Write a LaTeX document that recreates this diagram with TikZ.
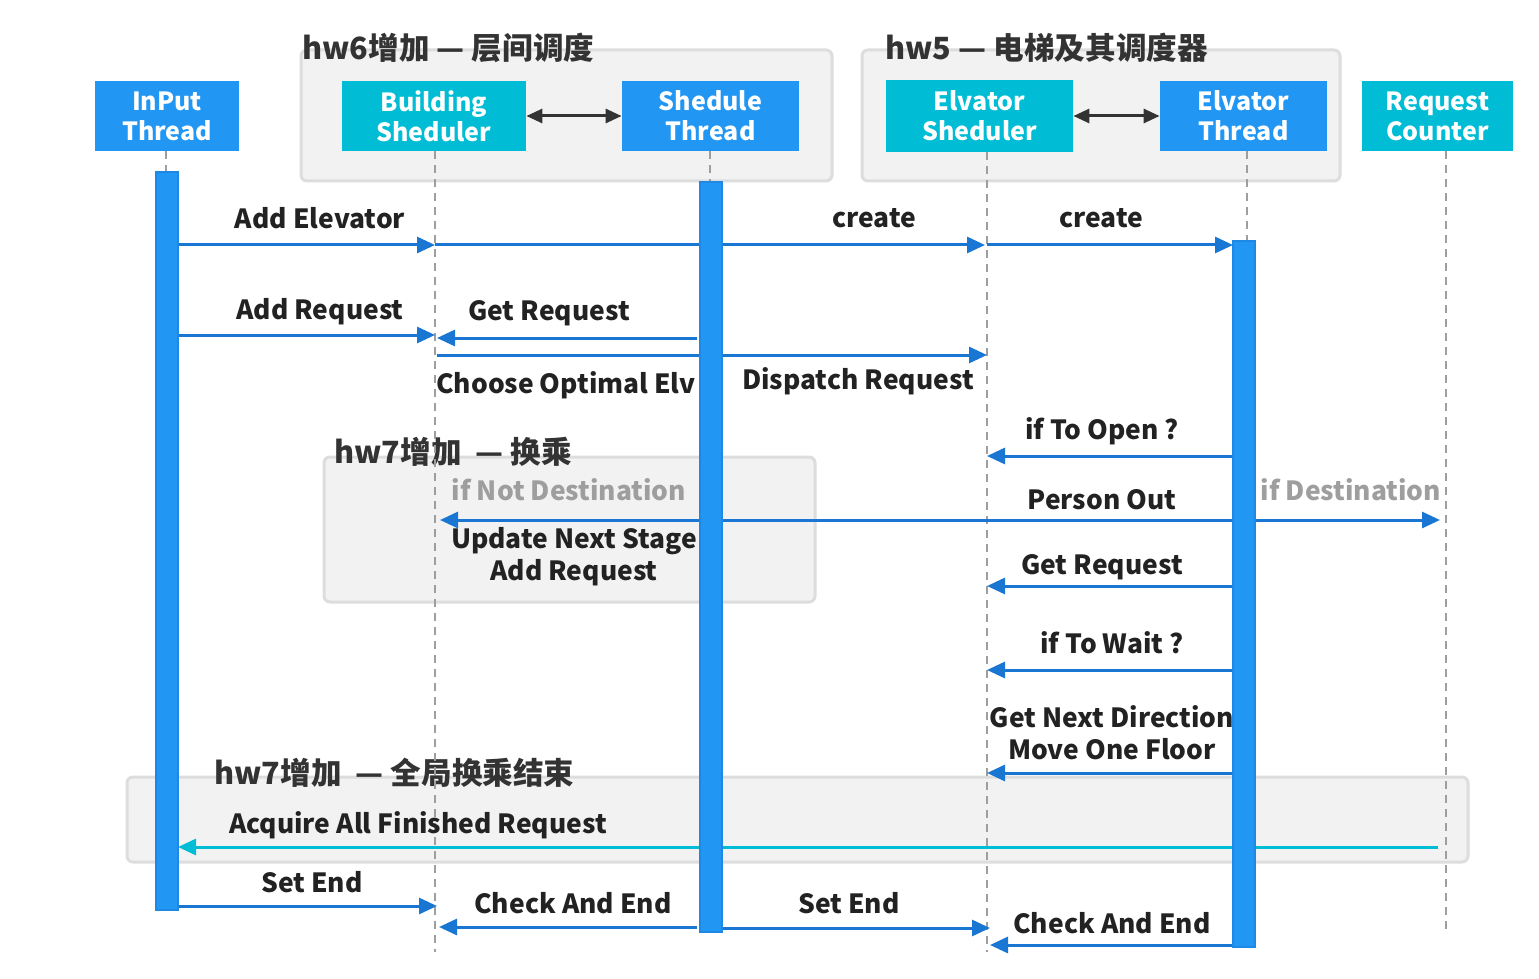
\documentclass[tikz,border=0pt]{standalone}
\usepackage{fontspec}
\setmainfont{Noto Sans CJK SC}
\usetikzlibrary{arrows.meta,fit}
\definecolor{nblue}{HTML}{2196F3}
\definecolor{ncyan}{HTML}{00BCD4}
\definecolor{mblue}{HTML}{1976D2}
\definecolor{barb}{HTML}{1E88E5}
\definecolor{txt}{HTML}{222222}
\definecolor{gtxt}{HTML}{9E9E9E}
\definecolor{gfill}{HTML}{F2F2F2}
\definecolor{gline}{HTML}{DDDDDD}
\definecolor{lline}{HTML}{9E9E9E}
\definecolor{dark}{HTML}{333333}
\tikzset{
  hdr/.style={inner sep=0pt, draw=none, text=white, align=center,
    font=\bfseries\fontsize{12.5}{15}\selectfont},
  bluehdr/.style={hdr, fill=nblue},
  cyanhdr/.style={hdr, fill=ncyan},
  grp/.style={inner sep=0pt, draw=gline, fill=gfill, line width=1.5pt, rounded corners=3pt},
  grptitle/.style={anchor=west, inner sep=0pt, text=dark, font=\bfseries\fontsize{15.3}{17}\selectfont},
  actbar/.style={inner sep=0pt, fill=nblue, draw=barb, line width=0.8pt},
  life/.style={draw=lline, line width=0.7pt, dash pattern=on 4pt off 3pt},
  msg/.style={draw=mblue, line width=1.5pt, -{Triangle[length=9pt,width=8pt]}},
  msgplain/.style={draw=mblue, line width=1.5pt},
  cmsg/.style={draw=ncyan, line width=1.5pt, -{Triangle[length=9pt,width=8pt]}},
  dbl/.style={draw=dark, line width=1.5pt, {Triangle[length=8pt,width=7pt]}-{Triangle[length=8pt,width=7pt]}},
  lbl/.style={inner sep=0pt, text=txt, align=center, font=\bfseries\fontsize{13.2}{16}\selectfont},
  glbl/.style={lbl, text=gtxt},
}
\begin{document}
\begin{tikzpicture}[x=0.5pt,y=-0.5pt]
\useasboundingbox[fill=white] (0,0) rectangle (1539,979);

% group boxes
\node[grp, fit={(301,50) (832,181)}] (g6) {};
\node[grp, fit={(862,50) (1340,181)}] (g5) {};
\node[grp, fit={(324,457) (815,602)}] (g7a) {};
\node[grp, fit={(127,777) (1468,862)}] (g7b) {};
\node[grptitle] (t6) at (302,48) {hw6增加 — 层间调度};
\node[grptitle] (t5) at (885,48) {hw5 — 电梯及其调度器};
\node[grptitle] (t7a) at (334,452) {hw7增加 \ — 换乘};
\node[grptitle] (t7b) at (214,773) {hw7增加 \ — 全局换乘结束};

% header nodes
\node[bluehdr, minimum width=72pt, minimum height=35pt] (IN) at (167,116) {InPut\\Thread};
\node[cyanhdr, minimum width=92pt, minimum height=35pt] (BS) at (434,116) {Building\\Sheduler};
\node[bluehdr, minimum width=88.5pt, minimum height=35pt] (ST) at (710.5,116) {Shedule\\Thread};
\node[cyanhdr, minimum width=93.5pt, minimum height=36pt] (ES) at (979.5,116) {Elvator\\Sheduler};
\node[bluehdr, minimum width=83.5pt, minimum height=35pt] (ET) at (1243.5,116) {Elvator\\Thread};
\node[cyanhdr, minimum width=75.5pt, minimum height=35pt] (RC) at (1437.5,116) {Request\\Counter};

\draw[dbl] (BS.east) -- (ST.west);
\draw[dbl] (ES.east) -- (ET.west);

% lifeline ends
\coordinate (INe) at (166,172);
\coordinate (BSe) at (435,952);
\coordinate (STe) at (710,182);
\coordinate (ESe) at (987,952);
\coordinate (ETe) at (1247,241);
\coordinate (RCe) at (1446,930);

\draw[life] (IN.south -| INe) -- (INe);
\draw[life] (BS.south -| BSe) -- (BSe);
\draw[life] (ST.south -| STe) -- (STe);
\draw[life] (ES.south -| ESe) -- (ESe);
\draw[life] (ET.south -| ETe) -- (ETe);
\draw[life] (RC.south -| RCe) -- (RCe);

% activation bars (positions)
\coordinate (ib1) at (156,172); \coordinate (ib2) at (178,910);
\coordinate (sb1) at (700,182); \coordinate (sb2) at (722,932);
\coordinate (eb1) at (1233,241); \coordinate (eb2) at (1255,947);

% messages
\coordinate (y245) at (0,245);
\draw[msg] (ib2 |- y245) -- (BSe |- y245);
\draw[msgplain] (BSe |- y245) -- (sb1 |- y245);
\draw[msg] (sb2 |- y245) -- ([xshift=-1pt]ESe |- y245);
\draw[msg] (ESe |- y245) -- (eb1 |- y245);
\node[lbl] at (320,218) {Add Elevator};
\node[lbl] at (874,218) {create};
\node[lbl] at (1101,218) {create};

\coordinate (y335) at (0,335);
\draw[msg] (ib2 |- y335) -- (BSe |- y335);
\node[lbl] at (320,312) {Add Request};
\coordinate (y337) at (0,338);
\draw[msg] ([xshift=-1.5pt]sb1 |- y337) -- ([xshift=1pt]BSe |- y337);
\node[lbl] at (549,313) {Get Request};
\coordinate (y355) at (0,355);
\draw[msgplain] ([xshift=1pt]BSe |- y355) -- (sb1 |- y355);
\draw[msg] (sb2 |- y355) -- (ESe |- y355);
\node[lbl] at (566,385) {Choose Optimal Elv};
\node[lbl] at (858,381) {Dispatch Request};

\coordinate (y456) at (0,456);
\draw[msg] (eb1 |- y456) -- (ESe |- y456);
\node[lbl] at (1102,431) {if To Open ?};

\coordinate (y520) at (0,520);
\draw[msg] (eb1 |- y520) -- ([xshift=2.5pt]BSe |- y520);
\draw[msg] (eb2 |- y520) -- ([xshift=-3pt]RCe |- y520);
\node[lbl] at (1102,500) {Person Out};
\node[glbl] at (569,490) {if Not Destination};
\node[glbl] at (1351,490) {if Destination};
\node[lbl] at (574,557) {Update Next Stage\\Add Request};

\coordinate (y586) at (0,586);
\draw[msg] (eb1 |- y586) -- (ESe |- y586);
\node[lbl] at (1102,567) {Get Request};

\coordinate (y670) at (0,670);
\draw[msg] (eb1 |- y670) -- (ESe |- y670);
\node[lbl] at (1112,643) {if To Wait ?};

\coordinate (y773) at (0,773);
\draw[msg] (eb1 |- y773) -- (ESe |- y773);
\node[lbl] at (1112,733) {Get Next Direction\\Move One Floor};

\coordinate (y847) at (0,847);
\draw[cmsg] ([xshift=-4pt]RCe |- y847) -- (ib2 |- y847);
\node[lbl] at (418,825) {Acquire All Finished Request};

\coordinate (y906) at (0,906);
\draw[msg] (ib2 |- y906) -- ([xshift=1pt]BSe |- y906);
\node[lbl] at (312,882) {Set End};
\coordinate (y927) at (0,927);
\draw[msg] ([xshift=-1.5pt]sb1 |- y927) -- ([xshift=2pt]BSe |- y927);
\node[lbl] at (573,903) {Check And End};
\coordinate (y928) at (0,928);
\draw[msg] (sb2 |- y928) -- ([xshift=1.5pt]ESe |- y928);
\node[lbl] at (849,903) {Set End};
\coordinate (y945) at (0,945);
\draw[msg] (eb1 |- y945) -- ([xshift=1.5pt]ESe |- y945);
\node[lbl] at (1112,923) {Check And End};

% activation bars
\node[actbar, fit=(ib1) (ib2)] (IB) {};
\node[actbar, fit=(sb1) (sb2)] (SB) {};
\node[actbar, fit=(eb1) (eb2)] (EB) {};
\end{tikzpicture}
\end{document}
